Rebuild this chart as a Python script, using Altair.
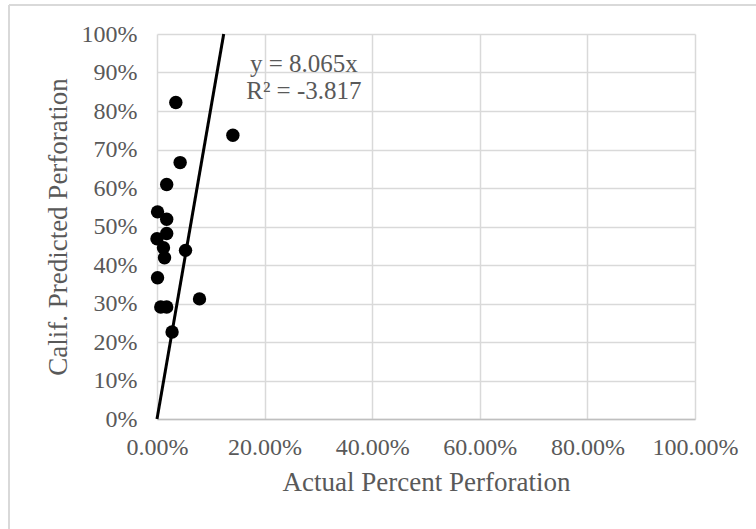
import altair as alt
import pandas as pd

actual = [0.035, 0.141, 0.043, 0.018, 0.001, 0.018, 0.018, 0.000, 0.012, 0.014,
          0.053, 0.001, 0.079, 0.007, 0.018, 0.028]
predicted = [0.822, 0.737, 0.666, 0.609, 0.538, 0.519, 0.482, 0.468, 0.445, 0.419,
             0.438, 0.367, 0.312, 0.291, 0.291, 0.226]

trend_x = [0.0, 0.124]
trend_y = [0.0, 1.0]

x_ticks = [0.0, 0.2, 0.4, 0.6, 0.8, 1.0]
y_ticks = [0.0, 0.1, 0.2, 0.3, 0.4, 0.5, 0.6, 0.7, 0.8, 0.9, 1.0]

eq_text = ["y = 8.065x", "R² = -3.817"]
eq_x = [0.273, 0.273]
eq_y = [0.921, 0.853]

FONT = "Liberation Serif"
GRAY = "#595959"

pts = pd.DataFrame({"x": actual, "y": predicted})
trend = pd.DataFrame({"x": trend_x, "y": trend_y})
eq = pd.DataFrame({"x": eq_x, "y": eq_y, "t": eq_text})

xscale = alt.Scale(domain=[0, 1], nice=False)
yscale = alt.Scale(domain=[0, 1], nice=False)

xaxis = alt.Axis(title="Actual Percent Perforation", format=".2%", values=x_ticks,
                 labelFont=FONT, labelFontSize=24, labelColor=GRAY, labelPadding=16,
                 titleFont=FONT, titleFontSize=27, titleFontWeight="normal", titleColor=GRAY,
                 titlePadding=10, ticks=False, domainColor="#bfbfbf", domainWidth=1.5,
                 gridColor="#d9d9d9", gridWidth=1.5, labelOverlap=False, labelFlush=False)
yaxis = alt.Axis(title="Calif. Predicted Perforation", format=".0%", values=y_ticks,
                 labelFont=FONT, labelFontSize=24, labelColor=GRAY, labelPadding=20,
                 titleFont=FONT, titleFontSize=27, titleFontWeight="normal", titleColor=GRAY,
                 titlePadding=9, ticks=False, domain=False,
                 gridColor="#d9d9d9", gridWidth=1.5, labelOverlap=False, labelFlush=False)

X = alt.X("x:Q", scale=xscale, axis=xaxis)
Y = alt.Y("y:Q", scale=yscale, axis=yaxis)

points = alt.Chart(pts).mark_circle(size=180, color="black", opacity=1).encode(x=X, y=Y)

line = alt.Chart(trend).mark_line(color="black", strokeWidth=3).encode(x=X, y=Y)

text = alt.Chart(eq).mark_text(font=FONT, fontSize=25, color=GRAY, align="center",
                               baseline="middle").encode(x=X, y=Y, text="t:N")

frame_top = alt.Chart(pts).mark_rule(color="#d9d9d9", strokeWidth=1.5, clip=False).encode(
    x=alt.value(-148), x2=alt.value(620), y=alt.value(-29)
)
frame_left = alt.Chart(pts).mark_rule(color="#d9d9d9", strokeWidth=1.5, clip=False).encode(
    x=alt.value(-148), y=alt.value(-29), y2=alt.value(500)
)

chart = alt.layer(line, points, text, frame_top, frame_left).properties(
    width=538, height=385,
    autosize=alt.AutoSizeParams(type="none"),
    padding={"left": 157, "top": 34, "right": 61, "bottom": 110},
    background="white",
).configure_view(stroke=None)

chart.save("out.html", embed_options={"renderer": "svg", "actions": False})
